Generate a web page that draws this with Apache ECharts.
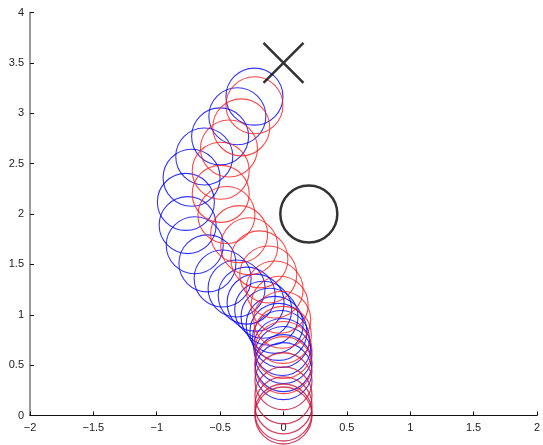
<!DOCTYPE html>
<html>
<head>
<meta charset="utf-8">
<script src="https://cdn.jsdelivr.net/npm/echarts@6/dist/echarts.min.js"></script>
<style>
  html, body { margin: 0; padding: 0; background: #fff; }
  #main { width: 543px; height: 445px; }
</style>
</head>
<body>
<div id="main"></div>
<script>
// positions shared by both runs (drawn crimson where they coincide)
var sharedPath = [[0, 0], [0, 0.03], [0, 0.1], [0, 0.2], [0, 0.34]];

// blue run
var bluePath = [
    [0, 0.44], [0, 0.52], [0, 0.6], [-0.01, 0.68], [-0.02, 0.76],
    [-0.04, 0.83], [-0.07, 0.9], [-0.11, 0.98], [-0.16, 1.05], [-0.22, 1.12],
    [-0.29, 1.19], [-0.37, 1.26], [-0.48, 1.36],
    [-0.6, 1.51], [-0.7, 1.69], [-0.756, 1.89], [-0.77, 2.12], [-0.725, 2.36],
    [-0.625, 2.57], [-0.5, 2.77], [-0.364, 2.97], [-0.229, 3.165]
];

// red run
var redPath = [
    [0, 0.5], [0, 0.65], [-0.005, 0.8], [-0.01, 0.95], [-0.03, 1.1],
    [-0.07, 1.25], [-0.12, 1.4], [-0.19, 1.55], [-0.27, 1.68], [-0.35, 1.8],
    [-0.45, 1.99], [-0.495, 2.2], [-0.495, 2.43], [-0.43, 2.65], [-0.333, 2.86],
    [-0.229, 3.08]
];

var obstacle = [[0.2, 2]];
var goal = [[0, 3.5]];

var dom = document.getElementById('main');
var myChart = echarts.init(dom);

var font = 'Liberation Sans, Arial, sans-serif';

function ring(name, data, color, width, size) {
    return {
        name: name,
        type: 'scatter',
        data: data,
        symbol: 'circle',
        symbolSize: size,
        clip: false,
        silent: true,
        itemStyle: {
            color: 'rgba(0,0,0,0)',
            borderColor: color,
            borderWidth: width
        }
    };
}

myChart.setOption({
    animation: false,
    backgroundColor: '#fff',
    grid: {
        left: 30,
        right: 2,
        top: 12.5,
        bottom: 29.5
    },
    xAxis: {
        type: 'value',
        min: -2,
        max: 2,
        interval: 0.5,
        splitLine: { show: false },
        axisLine: { onZero: false, lineStyle: { color: '#111', width: 1.2 } },
        axisTick: { inside: true, length: 4, lineStyle: { color: '#111' } },
        axisLabel: {
            color: '#222',
            fontFamily: font,
            fontSize: 11,
            margin: 7,
            formatter: function (v) {
                return String(v).replace('-', '\u2212');
            }
        }
    },
    yAxis: {
        type: 'value',
        min: 0,
        max: 4,
        interval: 0.5,
        splitLine: { show: false },
        axisLine: { show: true, onZero: false, lineStyle: { color: '#777', width: 1.5 } },
        axisTick: { show: true, inside: true, length: 4, lineStyle: { color: '#111' } },
        axisLabel: {
            color: '#222',
            fontFamily: font,
            fontSize: 11,
            margin: 6
        }
    },
    series: [
        ring('blue', bluePath, '#0000ff', 1.1, 57),
        ring('red', redPath, '#ff1a1a', 1.1, 57),
        ring('shared', sharedPath, '#c8143c', 1.3, 57),
        ring('obstacle', obstacle, '#000', 2.5, 57),
        {
            name: 'goal',
            type: 'scatter',
            data: goal,
            symbol: 'path://M0,0L10,10M10,0L0,10',
            symbolSize: 40,
            clip: false,
            silent: true,
            itemStyle: {
                color: 'rgba(0,0,0,0)',
                borderColor: '#000',
                borderWidth: 2.5
            }
        }
    ]
});

window.onresize = function () {
    myChart.resize();
};
</script>
</body>
</html>
